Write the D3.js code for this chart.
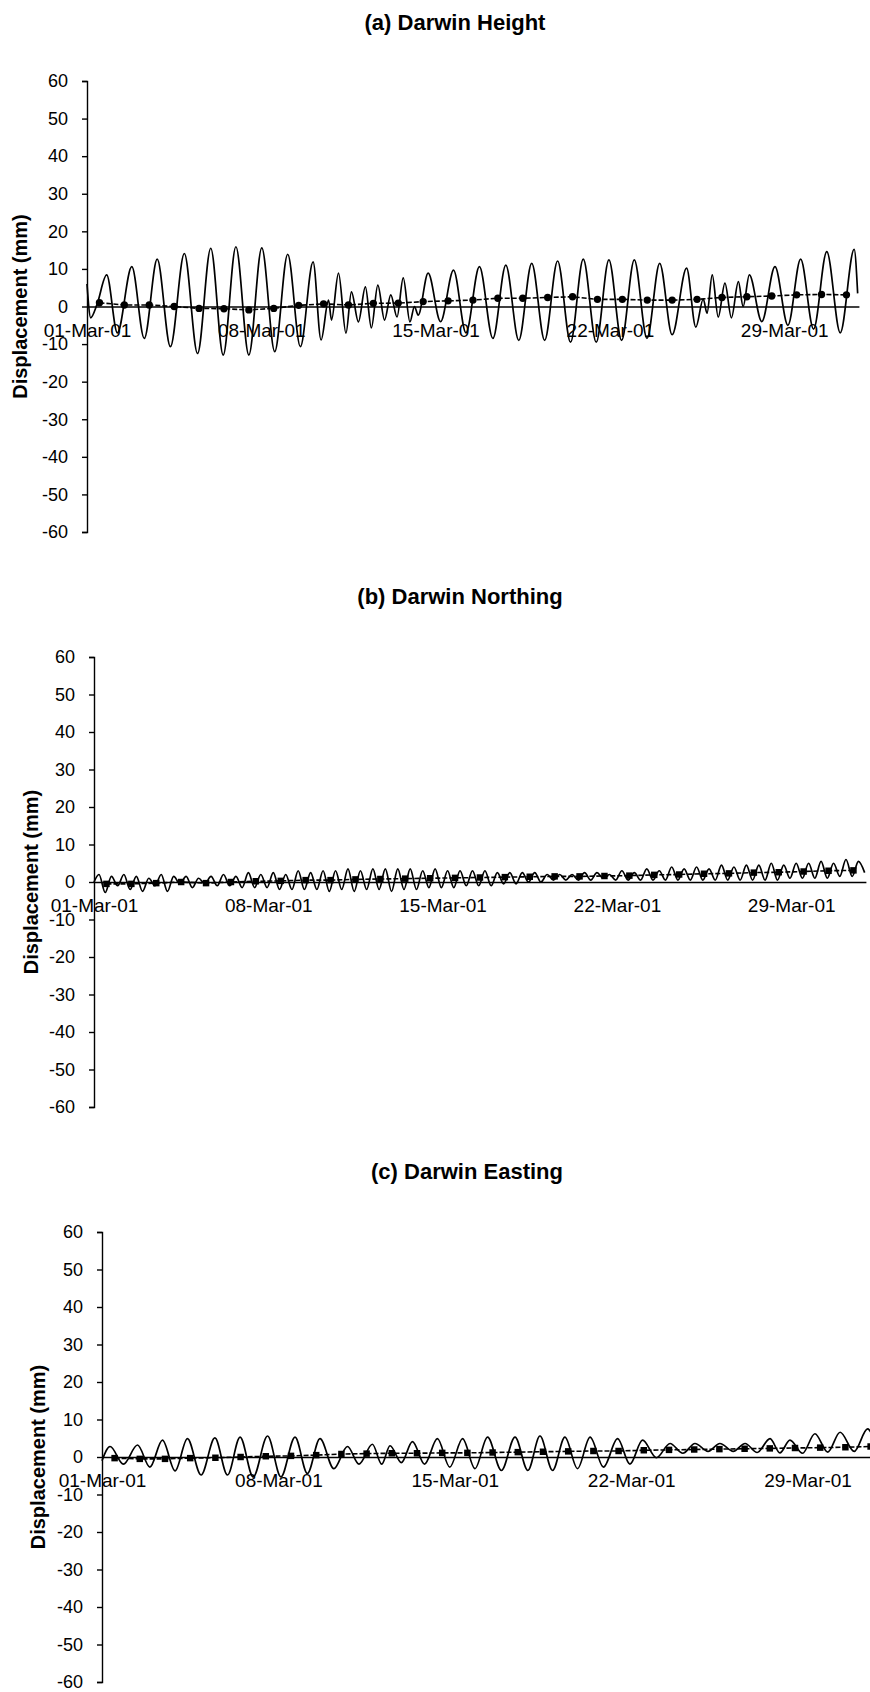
<!DOCTYPE html>
<html>
<head>
<meta charset="utf-8">
<script src="https://cdn.jsdelivr.net/npm/d3@7"></script>
<style>
  body { margin: 0; background: #fff; }
  svg { display: block; font-family: "Liberation Sans", Arial, Helvetica, sans-serif; }
</style>
</head>
<body>
<div id="chart"></div>
<script>
// axis values shared by the three panels
const yTicks = [60, 50, 40, 30, 20, 10, 0, -10, -20, -30, -40, -50, -60];
const dateLabels = ["01-Mar-01", "08-Mar-01", "15-Mar-01", "22-Mar-01", "29-Mar-01"];
const dateLabelDays = [0, 7, 14, 21, 28];

// (a) height: tidal curve extrema (day of month from 01-Mar 00:00, mm)
const heightTideDays = [0.00,0.15,0.40,0.79,1.22,1.80,2.30,2.82,3.35,3.91,4.44,4.97,5.47,5.98,6.50,7.02,7.54,8.06,8.57,9.08,
  9.40,9.70,9.82,10.10,10.40,10.62,10.90,11.18,11.42,11.68,11.95,12.20,12.45,12.70,12.97,13.15,13.30,13.70,14.20,14.72,
  15.22,15.76,16.30,16.82,17.34,17.86,18.38,18.90,19.42,19.93,20.45,20.96,21.47,21.98,22.49,23.00,23.50,24.08,24.45,24.75,
  24.90,25.11,25.35,25.62,25.88,26.16,26.35,26.60,27.10,27.63,28.15,28.66,29.18,29.71,30.25,30.81,30.95];
const heightTideMm = [6,-3,0.5,8.4,-7,10.6,-8.5,12.6,-10.7,14.1,-12.5,15.5,-12.9,15.9,-12.9,15.6,-12,13.9,-10.7,11.9,
  -8.9,1.7,-3.6,8.9,-7.1,3.9,-4.1,5.2,-5.7,5.7,-3.6,3.1,-2.8,7.6,-4.1,0,-2.3,8.9,-4,9.7,
  -7,10.6,-8.5,11,-9,11.5,-9,12.1,-9.5,12.6,-9.5,12.4,-9,12.4,-8.5,11.5,-7.5,10.2,-5.5,2,
  -1.8,8.4,-2.8,6.2,-3,6.6,0,8.4,-4,10.6,-5,12.6,-6,14.6,-7,15.2,3.5];
// daily solutions (one per day, plotted at midday)
const heightDailyMm = [1.0,0.4,0.4,0.0,-0.5,-0.6,-0.9,-0.5,0.3,0.7,0.4,0.85,0.9,1.3,1.5,1.7,2.2,2.2,2.4,2.6,
  1.9,1.9,1.7,1.7,1.9,2.4,2.6,2.8,3.1,3.2,3.1];

// (b) northing: four extrema per day (peak, trough, peak, trough)
const northExtremaOffsets = [0.2, 0.45, 0.7, 0.95];
const northTideMm = [
  [2,-2.8,1.5,-1], [2,-2,1.5,-2.5], [1,-1,2,-2.5], [1.5,-0.5,1.5,-1.5], [1,-0.5,1.5,-1],
  [2,-1,1.5,-1.5], [2.5,-1.5,2,-1.5], [2.5,-2,2,-2], [3,-2,2.5,-2], [3,-2.5,3,-2],
  [3.5,-2.5,3,-2], [3.5,-2,3.5,-2.5], [3.5,-2,3.5,-2], [3,-1.5,3.5,-1.5], [3,-1.5,3,-1],
  [3,-1,3,-1], [2.5,-0.5,2.5,-0.5], [2.5,0,2.5,0], [2,0.5,2,0.5], [2,0.5,2.5,0.5],
  [2.5,1,2,0.5], [3,0.5,2.5,0.5], [3.5,0.5,3,0.5], [4,0.5,3.5,0.5], [4,0.5,3.5,0.5],
  [4.5,0.5,4,0.5], [4.5,0.5,4.5,0.5], [5,0.5,4.5,1], [5,1,5,1], [5.5,1,5,1.5],
  [6,1.5,5.5,2.5]
];
const northDailyMm = [-0.5,-0.5,-0.3,0,-0.3,0,0.2,0.3,0.5,0.5,0.7,0.8,0.9,1.0,1.1,1.2,1.3,1.4,1.5,1.5,
  1.6,1.7,1.9,2.0,2.2,2.3,2.5,2.6,2.8,3.0,3.1];

// (c) easting: daily highs and lows of the tidal curve
const eastPeakDays = [0.32,1.41,2.40,3.39,4.48,5.48,6.57,7.66,8.65,9.74,10.73,11.43,12.32,13.31,14.31,15.30,
  16.39,17.38,18.37,19.37,20.46,21.45,22.54,23.53,24.52,25.52,26.51,27.30,28.29,29.29,30.38];
const eastPeakMm = [2.8,3.2,4.5,4.9,5.1,5.3,5.6,5.3,4.9,2.8,3.4,3.0,4.1,4.9,4.9,5.3,
  5.3,5.6,5.3,5.3,4.9,4.5,3.6,3.6,3.6,3.6,4.9,4.5,6.2,6.6,7.5];
const eastTroughDays = [0.85,1.90,2.90,3.93,4.98,6.00,7.10,8.15,9.20,10.20,11.10,11.88,12.80,13.80,14.80,15.85,
  16.90,17.88,18.87,19.90,20.95,22.00,23.05,24.05,25.05,26.00,26.90,27.80,28.80,29.85,30.80];
const eastTroughMm = [-1.9,-2.7,-3.7,-4.8,-4.8,-5.3,-5.3,-4.4,-3.1,-1.9,-1.9,-1.5,-1.9,-2.7,-3.1,-3.6,
  -3.6,-3.6,-3.1,-2.7,-1.9,-0.2,1.0,1.5,1.5,1.2,1.1,1.0,1.3,1.5,0.7];
const eastDailyMm = [-0.3,-0.5,-0.5,-0.3,-0.2,0,0.2,0.3,0.5,0.8,0.9,1.0,1.0,1.1,1.1,1.2,1.3,1.4,1.5,1.6,
  1.6,1.8,1.9,2.0,2.1,2.2,2.3,2.4,2.5,2.6,2.8];

// build point tables
const dailyDays = d3.range(31).map(d => d + 0.5);
const toPts = (days, vals) => days.map((d, i) => ({ t: d, v: vals[i] }));

const heightTide = toPts(heightTideDays, heightTideMm);
const northTide = [{ t: 0, v: 0 }].concat(
  northTideMm.flatMap((row, d) => row.map((v, k) => ({ t: d + northExtremaOffsets[k], v: v }))));
const eastTide = [{ t: 0, v: -1 }]
  .concat(toPts(eastPeakDays, eastPeakMm), toPts(eastTroughDays, eastTroughMm))
  .sort((a, b) => a.t - b.t);

const panels = [
  { title: "(a) Darwin Height", titleX: 455, titleY: 30, x0: 87, pxPerDay: 24.9, top: 81, bottom: 532,
    labelX: 20, tide: heightTide, daily: toPts(dailyDays, heightDailyMm), marker: "circle" },
  { title: "(b) Darwin Northing", titleX: 460, titleY: 604, x0: 94, pxPerDay: 24.9, top: 657, bottom: 1107,
    labelX: 31, tide: northTide, daily: toPts(dailyDays, northDailyMm), marker: "square" },
  { title: "(c) Darwin Easting", titleX: 467, titleY: 1179, x0: 102, pxPerDay: 25.2, top: 1232, bottom: 1682,
    labelX: 38, tide: eastTide, daily: toPts(dailyDays, eastDailyMm), marker: "square" }
];

const svg = d3.select("#chart").append("svg")
  .attr("width", 870)
  .attr("height", 1692);

panels.forEach(p => {
  const x = d3.scaleLinear().domain([0, 31]).range([p.x0, p.x0 + 31 * p.pxPerDay]);
  const y = d3.scaleLinear().domain([-60, 60]).range([p.bottom, p.top]);
  const g = svg.append("g");

  // title
  g.append("text")
    .attr("x", p.titleX).attr("y", p.titleY)
    .attr("text-anchor", "middle")
    .style("font-size", "22px").style("font-weight", "700")
    .text(p.title);

  // y axis (plain hyphen for negatives, like the original)
  const yAxis = g.append("g")
    .attr("transform", `translate(${p.x0},0)`)
    .call(d3.axisLeft(y).tickValues(yTicks).tickFormat(d => String(d))
      .tickSize(5).tickPadding(14));
  yAxis.selectAll("text").style("font-size", "18px").attr("fill", "#000");
  yAxis.selectAll("line, path").attr("stroke", "#000").attr("stroke-width", 1.4);

  g.append("text")
    .attr("transform", `translate(${p.labelX},${y(0)}) rotate(-90)`)
    .attr("text-anchor", "middle")
    .attr("dy", "0.35em")
    .style("font-size", "20px").style("font-weight", "700")
    .text("Displacement (mm)");

  // x axis crossing at zero
  const xAxis = g.append("g")
    .attr("transform", `translate(0,${y(0)})`)
    .call(d3.axisBottom(x).tickValues(dateLabelDays)
      .tickFormat((d, i) => dateLabels[i]).tickSize(0).tickSizeOuter(0).tickPadding(17));
  xAxis.selectAll("text").style("font-size", "19px").attr("fill", "#000");
  xAxis.select(".domain").attr("stroke", "#000").attr("stroke-width", 1.4);

  // tidal displacement curve
  const line = d3.line().x(d => x(d.t)).y(d => y(d.v)).curve(d3.curveMonotoneX);
  g.append("path")
    .datum(p.tide)
    .attr("fill", "none")
    .attr("stroke", "#000")
    .attr("stroke-width", 1.7)
    .attr("d", line);

  // daily solutions
  const dLine = d3.line().x(d => x(d.t)).y(d => y(d.v));
  g.append("path")
    .datum(p.daily)
    .attr("fill", "none")
    .attr("stroke", "#000")
    .attr("stroke-width", 1.6)
    .attr("stroke-dasharray", "5,2")
    .attr("d", dLine);

  const sym = d3.symbol().type(p.marker === "circle" ? d3.symbolCircle : d3.symbolSquare).size(42);
  g.selectAll(".mk")
    .data(p.daily)
    .join("path")
    .attr("transform", d => `translate(${x(d.t)},${y(d.v)})`)
    .attr("d", sym)
    .attr("fill", "#000");
});
</script>
</body>
</html>
